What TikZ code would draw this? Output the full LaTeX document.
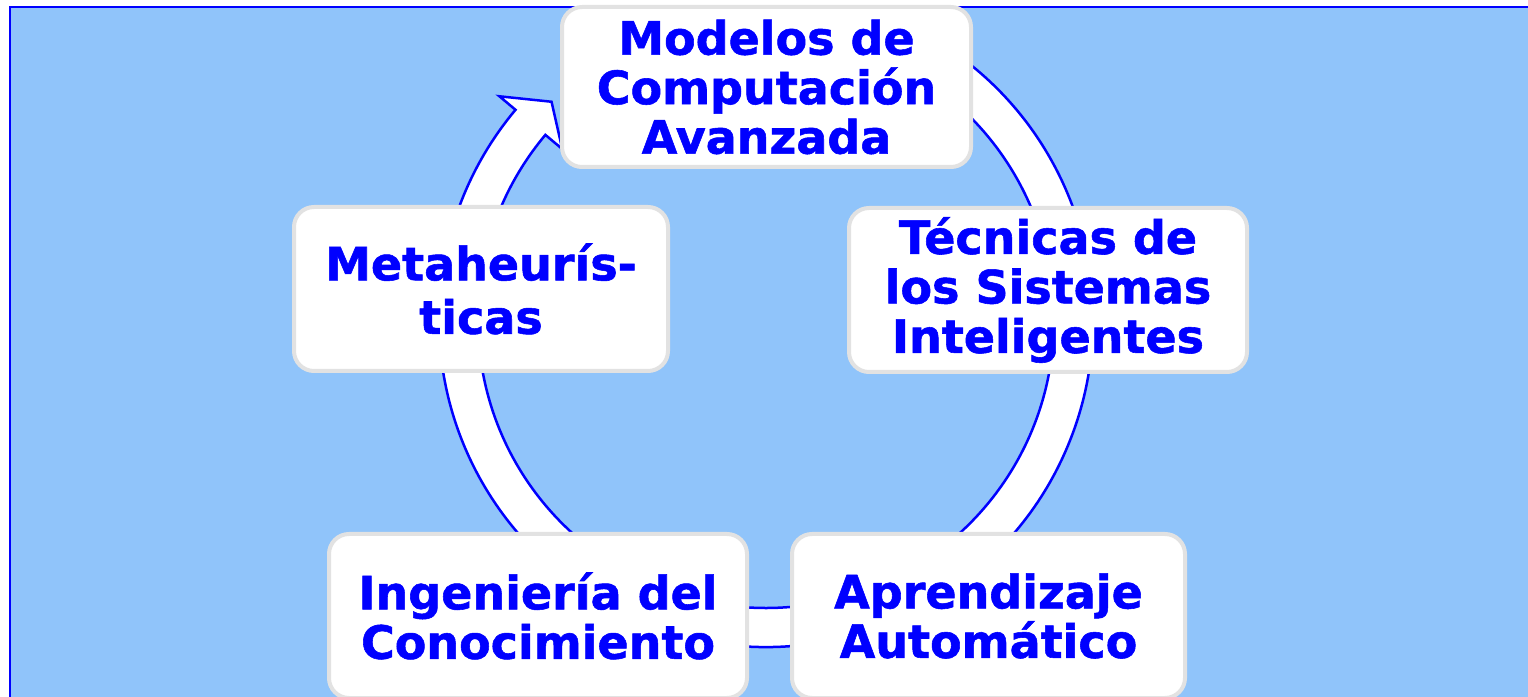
\documentclass[tikz,border=0pt]{standalone}
\usepackage{fontspec}
\newfontfamily\boxfont{DejaVu Sans}[BoldFeatures={FakeBold=1.2}]
\usetikzlibrary{calc}
\definecolor{bgblue}{RGB}{144,196,250}
\definecolor{boxgray}{RGB}{226,226,226}
\definecolor{txtblue}{RGB}{0,0,255}
\tikzset{
  box/.style={draw=boxgray, line width=4pt, fill=white, rounded corners=20pt,
    inner sep=0pt, align=center, text=txtblue,
    font=\boxfont\bfseries\fontsize{46}{49.5}\selectfont},
  ring/.style={draw=txtblue, line width=2.5pt, fill=white, line join=miter},
  frame/.style={draw=txtblue, line width=2.5pt}
}
\begin{document}
\begin{tikzpicture}[x=1pt,y=1pt]
\useasboundingbox (0,0) rectangle (1528,696);
% background panel
\fill[bgblue] (10,-10) rectangle (1540,689);
\draw[frame] (10,-10) -- (10,689) -- (1540,689);
% circular arrow
\coordinate (C) at (766,376);
\begin{scope}[shift={(C)}]
\coordinate (rs) at (68:327pt);
\coordinate (ba) at (140:348pt);
\coordinate (tip) at (134.5:306pt);
\coordinate (bc) at (140:266pt);
\coordinate (ri) at (140:288pt);
\draw[ring] (rs) arc[start angle=68, end angle=-220, radius=327pt]
  -- (ba) -- (tip) -- (bc) -- (ri)
  arc[start angle=-220, end angle=68, radius=288pt] -- cycle;
\end{scope}
% boxes
\node[box, minimum width=409pt, minimum height=160pt] (mca) at (766.5,609)
  {Modelos de\\Computación\\Avanzada};
\node[box, minimum width=374pt, minimum height=164pt, font=\boxfont\bfseries\fontsize{46}{53.5}\selectfont] (meta) at (481,407)
  {Metaheurís-\\ticas};
\node[box, minimum width=398pt, minimum height=164pt] (tsi) at (1048,406)
  {Técnicas de\\los Sistemas\\Inteligentes};
\node[box, minimum width=418pt, minimum height=164pt] (ic) at (538,80)
  {Ingeniería del\\Conocimiento};
\node[box, minimum width=393pt, minimum height=164pt] (aa) at (988.5,80)
  {Aprendizaje\\Automático};
\end{tikzpicture}
\end{document}
